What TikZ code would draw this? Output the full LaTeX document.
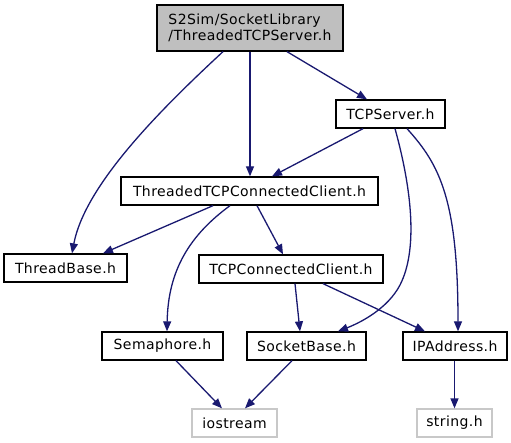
\documentclass[tikz,border=0pt]{standalone}
\usepackage{fontspec}
\setmainfont{DejaVu Sans}[LetterSpace=3]
\usetikzlibrary{arrows.meta}
\definecolor{edgeblue}{RGB}{25,25,112}
\definecolor{boxgray}{RGB}{191,191,191}
\definecolor{extgray}{RGB}{200,200,200}
\tikzset{
  hbox/.style={draw=black, line width=1.3pt, fill=white, minimum height=28pt,
    inner sep=0pt, font=\fontsize{14}{15.5}\selectfont},
  extbox/.style={hbox, draw=extgray},
  dep/.style={draw=edgeblue, line width=1.3pt, -{Triangle[length=10pt,width=8pt]}}
}
\begin{document}
\begin{tikzpicture}[x=1pt,y=-1pt]
\useasboundingbox (0,0) rectangle (511,443);
\node[hbox, fill=boxgray, minimum width=186pt, minimum height=46pt, align=left] (top) at (250,28) {S2Sim/SocketLibrary\\/ThreadedTCPServer.h};
\node[hbox, minimum width=109pt] (tcps) at (390.5,114) {TCPServer.h};
\node[hbox, minimum width=257pt] (ttcc) at (249.5,191) {ThreadedTCPConnectedClient.h};
\node[hbox, minimum width=123pt] (tb) at (65.5,268) {ThreadBase.h};
\node[hbox, minimum width=184pt] (tcc) at (291,269) {TCPConnectedClient.h};
\node[hbox, minimum width=121pt] (sem) at (162.5,346) {Semaphore.h};
\node[hbox, minimum width=119pt] (sb) at (306.5,346) {SocketBase.h};
\node[hbox, minimum width=104pt] (ipa) at (455,346) {IPAddress.h};
\node[extbox, minimum width=85pt] (ios) at (234.5,423) {iostream};
\node[extbox, minimum width=75pt] (str) at (454.5,423) {string.h};

\draw[dep] ([xshift=-27pt]top.south) .. controls (160,110) and (85,185) .. ([xshift=6.5pt]tb.north);
\draw[dep] (top.south) -- (top.south |- ttcc.north);
\draw[dep] ([xshift=37pt]top.south) -- ([xshift=-23.5pt]tcps.north);
\draw[dep] ([xshift=-27.5pt]tcps.south) -- ([xshift=22.5pt]ttcc.north);
\draw[dep] ([xshift=4.5pt]tcps.south) .. controls (412,190) and (418,250) .. (400,285)
   .. controls (388,308) and (362,322) .. ([xshift=31.5pt]sb.north);
\draw[dep] ([xshift=16.5pt]tcps.south) .. controls (440,165) and (458,200) .. ([xshift=3pt]ipa.north);
\draw[dep] ([xshift=-36.5pt]ttcc.south) -- ([xshift=37.5pt]tb.north);
\draw[dep] ([xshift=7.5pt]ttcc.south) -- ([xshift=-8pt]tcc.north);
\draw[dep] ([xshift=-19.5pt]ttcc.south) .. controls (190,235) and (168,270) .. ([xshift=4.5pt]sem.north);
\draw[dep] ([xshift=4pt]tcc.south) -- ([xshift=-6.5pt]sb.north);
\draw[dep] ([xshift=32pt]tcc.south) -- ([xshift=-30pt]ipa.north);
\draw[dep] ([xshift=13.5pt]sem.south) -- ([xshift=-12.5pt]ios.north);
\draw[dep] ([xshift=-14.5pt]sb.south) -- ([xshift=10.5pt]ios.north);
\draw[dep] ([xshift=-0.5pt]ipa.south) -- (str.north);
\end{tikzpicture}
\end{document}
